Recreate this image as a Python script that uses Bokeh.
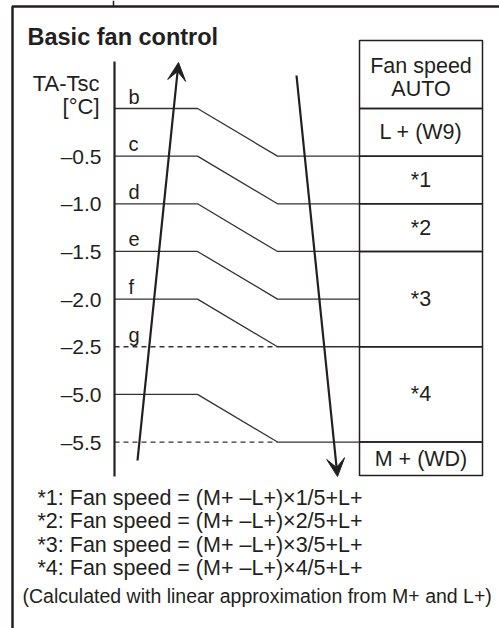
from bokeh.plotting import figure
from bokeh.models import Range1d, LinearAxis, FixedTicker, Arrow, VeeHead
from bokeh.core.properties import value
from bokeh.embed import file_html
from bokeh.resources import INLINE

# ---------------- data ----------------
LEVEL_LABELS = ["", "\u20130.5", "\u20131.0", "\u20131.5", "\u20132.0", "\u20132.5", "\u20135.0", "\u20135.5"]
ROW_LETTERS = ["b", "c", "d", "e", "f", "g"]
STEP_FROM = [0, 1, 2, 3, 4, 6]
STEP_TO = [1, 2, 3, 4, 5, 7]
DASHED_ROWS = [5, 7]
TABLE_BOUNDS = [0, 1, 2, 3, 5, 7]
TABLE_HEADER = "Fan speed\nAUTO"
TABLE_TEXT = ["L + (W9)", "*1", "*2", "*3", "*4", "M + (WD)"]
FOOTNOTES = [
    "*1: Fan speed = (M+ \u2013L+)\u00d71/5+L+",
    "*2: Fan speed = (M+ \u2013L+)\u00d72/5+L+",
    "*3: Fan speed = (M+ \u2013L+)\u00d73/5+L+",
    "*4: Fan speed = (M+ \u2013L+)\u00d74/5+L+",
]
NOTE = "(Calculated with linear approximation from M+ and L+)"
TITLE = "Basic fan control"
AXIS_TITLE = ["TA-Tsc", "[\u00b0C]"]

# ---------------- layout (page pixels) ----------------
W, H = 499, 628
Y0, DY = 108.0, 47.65
def ky(py):
    return (py - Y0) / DY

AXIS_X, BEND1, BEND2, TAB_X0, TAB_X1 = 114, 197, 277, 359, 482
TAB_TOP, TAB_BOT = ky(40), ky(475)
INK = "#231f20"
FONT = value("Liberation Sans")

p = figure(width=W, height=H, x_range=Range1d(0, W),
           y_range=Range1d(ky(H), ky(0)),
           output_backend="svg", toolbar_location=None, min_border=0,
           x_axis_type=None, y_axis_type=None)
p.outline_line_color = None
p.grid.visible = False
p.background_fill_color = "white"

# outer frame (top and left edges) and small mark above it
p.line(x=[12, 12, W], y=[ky(H), ky(6), ky(6)], line_color=INK, line_width=2.5)
p.line(x=[113, 113], y=[ky(0), ky(6)], line_color=INK, line_width=1.5)

# y axis
yax = LinearAxis(ticker=FixedTicker(ticks=list(range(1, len(LEVEL_LABELS)))),
                 major_label_overrides={i: s for i, s in enumerate(LEVEL_LABELS) if s},
                 fixed_location=AXIS_X, bounds=(ky(61), ky(476)))
yax.axis_line_width = 2.2
yax.axis_line_color = INK
yax.major_tick_in = 0
yax.major_tick_out = 0
yax.minor_tick_line_color = None
yax.major_label_standoff = 13
yax.major_label_text_font = "Liberation Sans"
yax.major_label_text_font_size = "21px"
yax.major_label_text_color = INK
p.add_layout(yax, "left")

# axis title
p.text(x=[99, 99], y=[ky(83), ky(106)], text=AXIS_TITLE, text_align="right",
       text_baseline="middle", text_font=FONT, text_font_size="22px", text_color=INK)

# step lines
xs = [[AXIS_X, BEND1, BEND2, TAB_X0] for _ in STEP_FROM]
ys = [[a, a, b, b] for a, b in zip(STEP_FROM, STEP_TO)]
p.multi_line(xs=xs, ys=ys, line_color="#333333", line_width=1.3)
p.multi_line(xs=[[AXIS_X, BEND2] for _ in DASHED_ROWS], ys=[[r, r] for r in DASHED_ROWS],
             line_color="#333333", line_width=1.3, line_dash="5 4")

# row letters (above their lines)
p.text(x=[128] * len(ROW_LETTERS), y=list(range(len(ROW_LETTERS))), text=ROW_LETTERS,
       text_align="left", text_baseline="middle", y_offset=-12,
       text_font=FONT, text_font_size="20px", text_color=INK)

# table
tops = [TAB_TOP] + TABLE_BOUNDS
bots = TABLE_BOUNDS + [TAB_BOT]
p.quad(left=TAB_X0, right=TAB_X1, top=tops, bottom=bots, fill_color=None,
       line_color=INK, line_width=1.5)
cx = (TAB_X0 + TAB_X1) / 2
mids = [(a + b) / 2 for a, b in zip(tops, bots)]
p.text(x=[cx], y=[mids[0]], text=[TABLE_HEADER], y_offset=3,
       text_align="center", text_baseline="middle", text_line_height=0.95,
       text_font=FONT, text_font_size="21.5px", text_color=INK)
p.text(x=[cx] * len(TABLE_TEXT), y=mids[1:], text=TABLE_TEXT,
       text_align="center", text_baseline="middle",
       text_font=FONT, text_font_size="21.5px", text_color=INK)

# arrows
head = dict(size=18, fill_color=INK, line_color=INK, line_width=1)
p.add_layout(Arrow(end=VeeHead(**head), x_start=137, y_start=ky(460), x_end=178, y_end=ky(62),
                   line_color=INK, line_width=2.2))
p.add_layout(Arrow(end=VeeHead(**head), x_start=296, y_start=ky(75), x_end=337, y_end=ky(476),
                   line_color=INK, line_width=2.2))

# title
p.text(x=[27], y=[ky(36)], text=[TITLE], text_align="left", text_baseline="middle",
       text_font=FONT, text_font_size="23.5px", text_font_style="bold", text_color=INK)

# footnotes
FOOT_MID = [497, 520.5, 544, 567.5]
p.text(x=[37] * len(FOOTNOTES), y=[ky(m) for m in FOOT_MID],
       text=FOOTNOTES, text_align="left", text_baseline="middle",
       text_font=FONT, text_font_size="21.5px", text_color=INK)
p.text(x=[22], y=[ky(595)], text=[NOTE], text_align="left", text_baseline="middle",
       text_font=FONT, text_font_size="19.5px", text_color=INK)

open("out.html", "w").write(file_html(p, INLINE))
